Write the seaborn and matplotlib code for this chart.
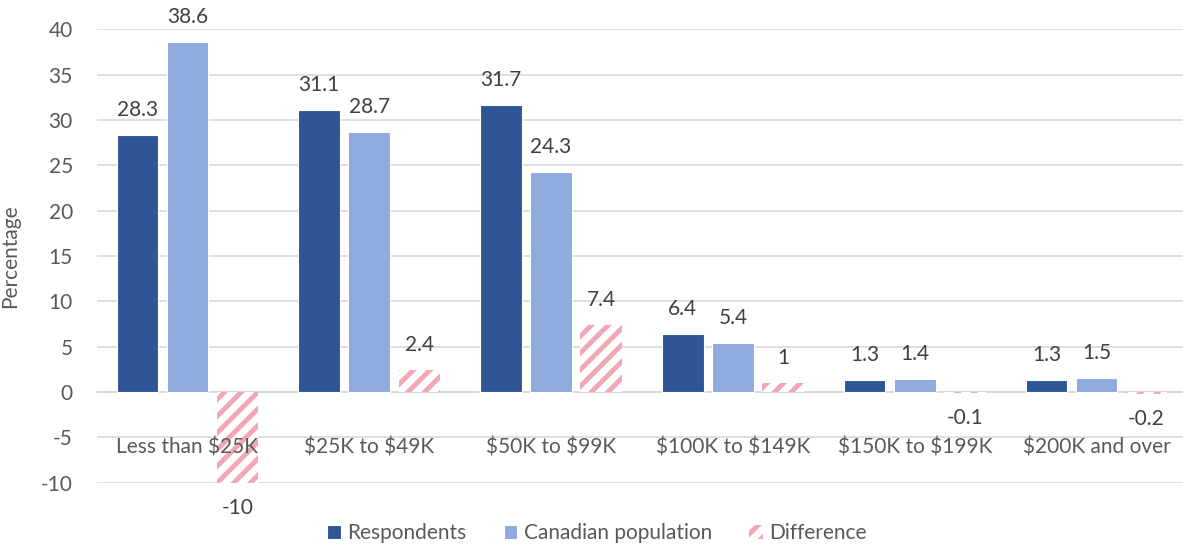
import pandas as pd
import numpy as np
import seaborn as sns
import matplotlib.pyplot as plt

categories = ["Less than $25K", "$25K to $49K", "$50K to $99K",
              "$100K to $149K", "$150K to $199K", "$200K and over"]
respondents = [28.3, 31.1, 31.7, 6.4, 1.3, 1.3]
canadian = [38.6, 28.7, 24.3, 5.4, 1.4, 1.5]
difference = [-10, 2.4, 7.4, 1, -0.1, -0.2]
series = ["Respondents", "Canadian population", "Difference"]

df = pd.DataFrame({
    "income": categories * 3,
    "value": respondents + canadian + difference,
    "series": [s for s in series for _ in categories],
})

sns.set_theme(style="white")
plt.rcParams["font.family"] = ["Lato", "DejaVu Sans"]
plt.rcParams["hatch.linewidth"] = 3.5
plt.rcParams["text.parse_math"] = False
plt.rcParams["axes.unicode_minus"] = False

colors = ["#2F5597", "#8FAADC", "#F2A7B4"]
fig = plt.figure(figsize=(11.83, 5.49), dpi=100)
ax = fig.add_axes([96.5 / 1183, 1 - 482.7 / 549, 1091 / 1183, 453.4 / 549])

sns.barplot(data=df, x="income", y="value", hue="series", order=categories,
            hue_order=series, palette=colors, saturation=1, width=0.825, gap=0.17,
            edgecolor="white", linewidth=0.8, legend=True, ax=ax)

# hatch the difference bars
for bar in ax.containers[2]:
    bar.set_facecolor("white")
    bar.set_edgecolor("#F2A7B4")
    bar.set_linewidth(0)
    bar.set_hatch("//")

# data labels
for cont in ax.containers:
    for bar in cont:
        v = bar.get_height()
        x = bar.get_x() + bar.get_width() / 2
        off = 18 if v >= 0 else -18
        ax.annotate(f"{v:g}", (x, v), xytext=(0, off), textcoords="offset points",
                    ha="center", va="center", fontsize=15, color="#404040")

ax.set_ylim(-10, 40)
ax.set_xlim(-0.5, 5.5)
ax.set_yticks(np.arange(-10, 41, 5))
ax.yaxis.grid(True, color="#D9D9D9", linewidth=1.2)
ax.set_axisbelow(True)
ax.xaxis.set_zorder(5)  # category labels drawn over the bars
for s in ["top", "right", "left"]:
    ax.spines[s].set_visible(False)
ax.spines["bottom"].set_position(("data", 0))
ax.spines["bottom"].set_color("#D9D9D9")
ax.spines["bottom"].set_linewidth(1.2)
ax.spines["bottom"].set_zorder(0.6)
ax.tick_params(axis="x", length=0, pad=33, labelsize=15, labelcolor="#595959")
ax.tick_params(axis="y", length=0, pad=17, labelsize=15, labelcolor="#595959")
ax.set_xlabel("")
ax.set_ylabel("Percentage", fontsize=15, color="#595959")
ax.yaxis.set_label_coords(-0.0701, 0.5)

h, l = ax.get_legend_handles_labels()
ax.legend_.remove()
h[2].set_facecolor("white")
h[2].set_edgecolor("#F2A7B4")
h[2].set_linewidth(0)
h[2].set_hatch("//")
fig.legend(h, l, loc="center", bbox_to_anchor=(597 / 1183, 16 / 549), ncol=3,
           frameon=False, fontsize=15, labelcolor="#595959", handlelength=0.65,
           handleheight=0.65, handletextpad=0.3, columnspacing=1.8)

fig.savefig("out.png", dpi=100)
